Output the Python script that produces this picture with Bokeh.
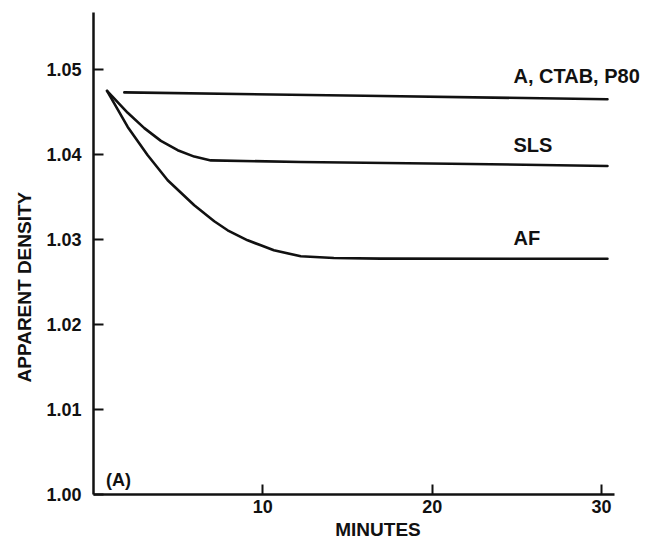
from bokeh.plotting import figure
from bokeh.models import Range1d, FixedTicker, Label, Title
from bokeh.embed import file_html
from bokeh.resources import INLINE

# ---- data ----
# A, CTAB, P80 (nearly flat line)
a_minutes = [1.82, 16.0, 30.35]
a_density = [1.0473, 1.0469, 1.0465]

# SLS
sls_minutes = [0.80, 2.02, 3.00, 3.98, 4.97, 5.95, 6.93, 12.24, 21.09, 30.35]
sls_density = [1.04748, 1.04490, 1.04310, 1.04160, 1.04050, 1.03975, 1.03930,
               1.03912, 1.03891, 1.03865]

# AF
af_minutes = [0.80, 2.02, 3.20, 4.38, 5.95, 7.13, 7.92, 9.10, 9.88, 10.65,
              12.24, 14.19, 16.96, 30.35]
af_density = [1.04748, 1.04324, 1.03991, 1.03697, 1.03402, 1.03214, 1.03108,
              1.02990, 1.02931, 1.02873, 1.02802, 1.02782, 1.02775, 1.02773]

x_ticks = [10, 20, 30]
x_tick_labels = ["10", "20", "30"]
y_ticks = [1.00, 1.01, 1.02, 1.03, 1.04, 1.05]
y_tick_labels = ["1.00", "1.01", "1.02", "1.03", "1.04", "1.05"]

series_labels = ["A, CTAB, P80", "SLS", "AF"]
label_y = [1.04921, 1.04109, 1.03014]
label_x = 24.8

FONT = "Liberation Sans"
INK = "#111111"

p = figure(width=662, height=546, output_backend="svg", toolbar_location=None,
           x_range=Range1d(0, 33.6), y_range=Range1d(1.0, 1.0567),
           min_border_left=93, min_border_right=0, min_border_top=12,
           min_border_bottom=52)
p.outline_line_color = None
p.grid.visible = False
p.background_fill_color = "white"
p.border_fill_color = "white"

for ax in (p.xaxis[0], p.yaxis[0]):
    ax.axis_line_width = 2.5
    ax.axis_line_color = INK
    ax.major_tick_line_width = 2
    ax.major_tick_line_color = INK
    ax.major_tick_in = 10
    ax.major_tick_out = 0
    ax.minor_tick_line_color = None
    ax.major_label_text_font = FONT
    ax.major_label_text_font_style = "bold"
    ax.major_label_text_font_size = "18px"
    ax.major_label_text_color = INK

p.xaxis.bounds = (0, 30.77)
p.xaxis.ticker = FixedTicker(ticks=x_ticks)
p.xaxis.major_label_overrides = {t: s for t, s in zip(x_ticks, x_tick_labels)}
p.xaxis.major_label_standoff = 5
p.xaxis.axis_label = "MINUTES"
p.xaxis.axis_label_text_font = FONT
p.xaxis.axis_label_text_font_style = "bold"
p.xaxis.axis_label_text_font_size = "19px"
p.xaxis.axis_label_text_color = INK
p.xaxis.axis_label_standoff = 3

p.yaxis.ticker = FixedTicker(ticks=y_ticks)
p.yaxis.major_label_overrides = {t: s for t, s in zip(y_ticks, y_tick_labels)}
p.yaxis.major_label_standoff = 12

for xs, ys in ((a_minutes, a_density), (sls_minutes, sls_density), (af_minutes, af_density)):
    p.line(xs, ys, line_color=INK, line_width=2.6, line_join="round", line_cap="round")

for txt, yv in zip(series_labels, label_y):
    p.add_layout(Label(x=label_x, y=yv, text=txt, text_font=FONT, text_font_style="bold",
                       text_font_size="20px", text_color=INK, text_baseline="middle",
                       text_align="left"))

p.add_layout(Label(x=0.74, y=1.00165, text="(A)", text_font=FONT, text_font_style="bold",
                   text_font_size="18px", text_color=INK, text_baseline="middle",
                   text_align="left"))

ytitle = Title(text="APPARENT DENSITY", align="left", offset=112, standoff=17,
               text_font=FONT, text_font_style="bold", text_font_size="19px",
               text_color=INK)
p.add_layout(ytitle, "left")

open("out.html", "w").write(file_html(p, INLINE))
